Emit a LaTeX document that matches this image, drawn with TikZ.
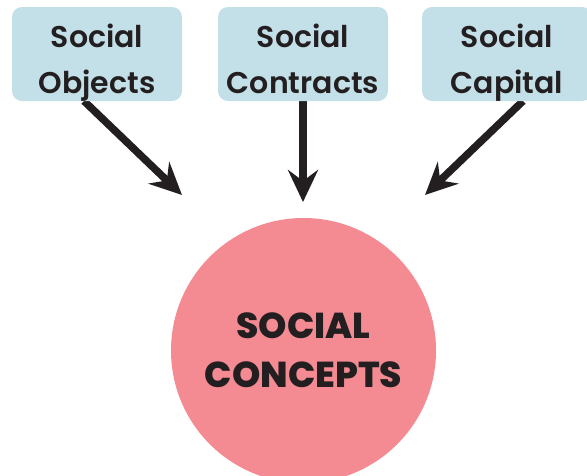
\documentclass[tikz,border=0pt]{standalone}
\usepackage{fontspec}
\setmainfont{Poppins}[BoldFont={Poppins ExtraBold}]
\newfontfamily\topicfont{Poppins SemiBold}
\usetikzlibrary{arrows.meta}
\definecolor{boxblue}{HTML}{C3DFE8}
\definecolor{conceptpink}{HTML}{F48A92}
\definecolor{ink}{HTML}{231F20}
\begin{document}
\begin{tikzpicture}[x=1pt,y=-1pt,
  topic/.style={fill=boxblue, rounded corners=10pt, minimum width=170pt,
    minimum height=94pt, inner sep=0pt, align=center, text=ink,
    text height=78pt, text depth=0pt,
    font=\topicfont\fontsize{30}{46}\selectfont},
  feed/.style={draw=ink, line width=7.5pt,
    -{Stealth[length=32pt,width=30pt,inset=11pt]}},
  concept/.style={circle, fill=conceptpink, minimum size=265pt, inner sep=0pt,
    align=center, text=ink, font=\fontsize{36}{49}\selectfont\bfseries}]
\useasboundingbox (0,0) rectangle (587,475);
\clip (0,0) rectangle (587,475);

% central concept
\node[concept] (core) at (303.5,350.5) {SOCIAL\\CONCEPTS};

% anchor points for the connectors
\coordinate (s1) at (84,101);
\coordinate (t1) at (182,195);
\coordinate (s2) at (303,101);
\coordinate (t2) at (303,202);
\coordinate (s3) at (523,101);
\coordinate (t3) at (425,195);

\draw[feed] (s1) -- (t1);
\draw[feed] (s2) -- (t2);
\draw[feed] (s3) -- (t3);

% source topics
\node[topic] (obj) at (97,54) {Social\\Objects};
\node[topic] (con) at (303,54) {Social\\Contracts};
\node[topic] (cap) at (507,54) {Social\\Capital};
\end{tikzpicture}
\end{document}
